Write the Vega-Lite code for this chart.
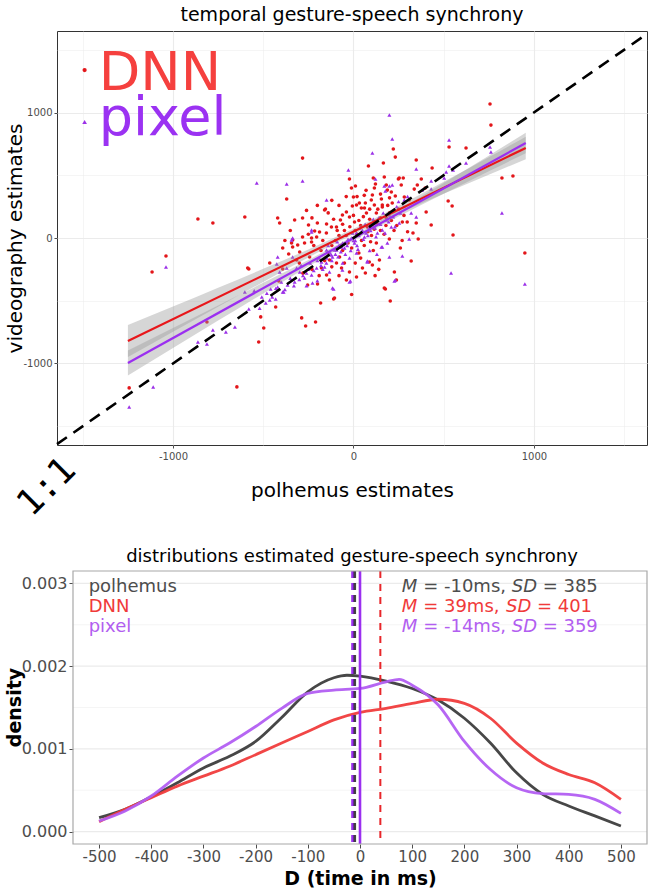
{
  "$schema": "https://vega.github.io/schema/vega-lite/v6.json",
  "background": "white",
  "padding": {"left": 4, "right": 0, "top": 5, "bottom": 0},
  "config": {
    "font": "DejaVu Sans",
    "view": {"stroke": null},
    "axis": {"domain": false, "gridColor": "#ebebeb", "tickColor": "#4d4d4d", "labelColor": "#4d4d4d", "titleColor": "#000000", "titleFontWeight": "normal", "labelFont": "DejaVu Sans", "titleFont": "DejaVu Sans"}
  },
  "datasets": {
    "dnn": [
      {"x":-1243,"y":-1195},{"x":-646,"y":-1187},{"x":-1116,"y":-271},{"x":-1039,"y":-143},{"x":-862,"y":151},{"x":-779,"y":119},{"x":-602,"y":167},{"x":-580,"y":-247},{"x":-812,"y":-669},{"x":-525,"y":-829},{"x":-282,"y":637},{"x":-370,"y":311},{"x":-155,"y":231},{"x":-514,"y":-629},{"x":-497,"y":-717},{"x":-431,"y":-550},{"x":-414,"y":-343},{"x":-392,"y":-247},{"x":-464,"y":-199},{"x":-409,"y":120},{"x":-287,"y":-637},{"x":-265,"y":-701},{"x":-210,"y":-669},{"x":-182,"y":-518},{"x":-110,"y":-486},{"x":-343,"y":-40},{"x":-315,"y":-175},{"x":-586,"y":-239},{"x":-420,"y":159},{"x":-326,"y":143},{"x":-392,"y":-80},{"x":-337,"y":-72},{"x":-282,"y":8},{"x":-232,"y":0},{"x":-188,"y":48},{"x":-160,"y":223},
      {"x":757,"y":1068},{"x":762,"y":900},{"x":221,"y":709},{"x":232,"y":645},{"x":166,"y":598},{"x":83,"y":574},{"x":-22,"y":470},{"x":-11,"y":398},{"x":11,"y":414},{"x":0,"y":327},{"x":-6,"y":255},{"x":110,"y":478},{"x":122,"y":430},{"x":116,"y":398},{"x":171,"y":486},{"x":182,"y":422},{"x":188,"y":382},{"x":210,"y":367},{"x":249,"y":470},{"x":232,"y":335},{"x":66,"y":279},{"x":99,"y":303},{"x":116,"y":263},{"x":155,"y":311},{"x":160,"y":263},{"x":215,"y":279},{"x":105,"y":343},{"x":17,"y":263},{"x":44,"y":239},{"x":530,"y":725},{"x":624,"y":717},{"x":348,"y":622},{"x":436,"y":558},{"x":254,"y":478},{"x":276,"y":478},{"x":376,"y":470},{"x":265,"y":422},{"x":354,"y":422},{"x":337,"y":390},{"x":398,"y":398},{"x":823,"y":478},{"x":884,"y":494},{"x":525,"y":295},{"x":547,"y":255},{"x":282,"y":327},{"x":309,"y":303},
      {"x":950,"y":-120},{"x":552,"y":24},{"x":403,"y":207},{"x":431,"y":104},{"x":348,"y":120},{"x":298,"y":127},{"x":271,"y":127},{"x":359,"y":-8},{"x":199,"y":-8},{"x":320,"y":-183},{"x":227,"y":-271},{"x":204,"y":-502},{"x":177,"y":-406},{"x":66,"y":-279},{"x":105,"y":-215},
      {"x":-282,"y":159},{"x":-249,"y":104},{"x":-215,"y":56},{"x":-149,"y":112},{"x":-122,"y":88},{"x":-94,"y":88},{"x":-72,"y":143},{"x":-61,"y":183},{"x":-39,"y":207},{"x":33,"y":279},{"x":61,"y":239},{"x":127,"y":199},{"x":160,"y":247},{"x":182,"y":159},{"x":-337,"y":-16},{"x":-309,"y":-56},{"x":-298,"y":-112},{"x":-271,"y":-40},{"x":-232,"y":-32},{"x":-204,"y":8},{"x":-359,"y":-127},{"x":-243,"y":-151},{"x":-177,"y":-239},{"x":-149,"y":-295},{"x":-133,"y":-335},{"x":-199,"y":-367},{"x":-254,"y":-375},{"x":-39,"y":-335},{"x":-105,"y":-478},{"x":-94,"y":-199},{"x":-66,"y":-239},{"x":-22,"y":-271},{"x":17,"y":-311},{"x":50,"y":-239},{"x":88,"y":-191},{"x":127,"y":-40},{"x":144,"y":-175},{"x":171,"y":-398},{"x":238,"y":-335},{"x":-22,"y":167},{"x":6,"y":127},{"x":72,"y":199},{"x":77,"y":88},{"x":-133,"y":-175},{"x":-77,"y":-151},
      {"x":-50,"y":60},{"x":20,"y":30},{"x":40,"y":100},{"x":90,"y":150},{"x":130,"y":120},{"x":150,"y":60},{"x":-80,"y":20},{"x":-30,"y":-40},{"x":60,"y":-60},{"x":100,"y":20},{"x":-120,"y":-60},{"x":200,"y":200},{"x":180,"y":100},{"x":-180,"y":-100},{"x":0,"y":180},{"x":30,"y":-120},{"x":-60,"y":-100},{"x":110,"y":-100},{"x":240,"y":100},{"x":70,"y":380},
      {"x":-250,"y":30},{"x":-220,"y":-60},{"x":-200,"y":120},{"x":-170,"y":-20},{"x":-150,"y":40},{"x":-140,"y":-120},{"x":-110,"y":150},{"x":-100,"y":-20},{"x":-90,"y":60},{"x":-70,"y":-60},{"x":-60,"y":110},{"x":-40,"y":20},{"x":-20,"y":90},{"x":-10,"y":-80},{"x":10,"y":60},{"x":30,"y":140},{"x":45,"y":-20},{"x":55,"y":170},{"x":80,"y":50},{"x":95,"y":-30},{"x":115,"y":70},{"x":135,"y":230},{"x":150,"y":160},{"x":170,"y":30},{"x":190,"y":260},{"x":210,"y":140},{"x":225,"y":60},{"x":250,"y":230},{"x":280,"y":180},{"x":300,"y":50},{"x":-300,"y":-200},{"x":-280,"y":-280},{"x":-230,"y":-250},{"x":-190,"y":-300},{"x":-160,"y":-180},{"x":-120,"y":-230},{"x":-80,"y":-300},{"x":-50,"y":-200},{"x":10,"y":-200},{"x":40,"y":-160},{"x":140,"y":-250},{"x":260,"y":-80},{"x":-260,"y":220},{"x":-230,"y":160},{"x":-120,"y":300},{"x":-80,"y":260},{"x":-40,"y":330},{"x":20,"y":330},{"x":60,"y":340},{"x":90,"y":230},{"x":-350,"y":60},{"x":-380,"y":-20},{"x":150,"y":350},{"x":200,"y":320},{"x":120,"y":-300},{"x":-10,"y":-450},{"x":270,"y":-20},{"x":330,"y":40},{"x":-140,"y":200},{"x":-200,"y":260}
    ],
    "pixel": [
      {"x":-1243,"y":-1347},{"x":-1110,"y":-1188},{"x":-1039,"y":-231},{"x":-536,"y":438},{"x":-602,"y":-430},{"x":-580,"y":-566},{"x":-779,"y":-733},{"x":-862,"y":-829},{"x":-812,"y":-845},{"x":-707,"y":-749},{"x":-657,"y":-709},{"x":-508,"y":-470},{"x":-486,"y":-518},{"x":-459,"y":-406},{"x":-431,"y":-486},{"x":-409,"y":-271},{"x":-425,"y":-207},{"x":-387,"y":-430},{"x":-110,"y":-406},{"x":-370,"y":430},{"x":-282,"y":454},{"x":-149,"y":303},{"x":-420,"y":-151},{"x":-337,"y":0},{"x":-232,"y":64},{"x":-28,"y":542},
      {"x":199,"y":980},{"x":215,"y":789},{"x":105,"y":677},{"x":122,"y":470},{"x":171,"y":414},{"x":199,"y":414},{"x":215,"y":422},{"x":177,"y":375},{"x":530,"y":781},{"x":348,"y":550},{"x":530,"y":574},{"x":552,"y":542},{"x":514,"y":526},{"x":624,"y":598},{"x":757,"y":725},{"x":762,"y":685},{"x":431,"y":454},{"x":381,"y":382},{"x":431,"y":390},{"x":282,"y":303},{"x":503,"y":478},
      {"x":823,"y":199},{"x":950,"y":-367},{"x":541,"y":-279},{"x":254,"y":120},{"x":348,"y":167},{"x":210,"y":88},{"x":309,"y":-8},{"x":271,"y":-143},{"x":227,"y":-343},{"x":-17,"y":-343},{"x":-116,"y":-398},{"x":77,"y":-183},{"x":160,"y":-72},
      {"x":-343,"y":-16},{"x":-232,"y":48},{"x":-149,"y":-96},{"x":-105,"y":-96},{"x":-116,"y":-151},{"x":-420,"y":-390},{"x":-392,"y":-430},{"x":-464,"y":-494},{"x":-365,"y":-375},{"x":-326,"y":-351},{"x":-298,"y":-271},{"x":-271,"y":-319},{"x":-232,"y":-295},{"x":-204,"y":-239},{"x":-177,"y":-191},{"x":-149,"y":-159},{"x":-122,"y":-135},{"x":-94,"y":-96},{"x":-66,"y":-72},{"x":-39,"y":-32},{"x":-11,"y":0},{"x":6,"y":-40},{"x":17,"y":40},{"x":44,"y":48},{"x":61,"y":8},{"x":88,"y":88},{"x":116,"y":120},{"x":133,"y":40},{"x":160,"y":64},{"x":182,"y":143},{"x":199,"y":183},{"x":77,"y":-191},{"x":-22,"y":-351},{"x":-227,"y":-359},{"x":-315,"y":-239},{"x":-160,"y":-231},{"x":-133,"y":-271},{"x":-61,"y":-255},{"x":17,"y":-120},{"x":-22,"y":-159},{"x":155,"y":-72},{"x":188,"y":-40},{"x":199,"y":-151},{"x":232,"y":-335},{"x":-337,"y":-151},{"x":-370,"y":-239},
      {"x":-250,"y":-250},{"x":-200,"y":-180},{"x":-180,"y":-220},{"x":-130,"y":-120},{"x":-80,"y":-60},{"x":-60,"y":-40},{"x":-30,"y":-10},{"x":0,"y":-20},{"x":30,"y":20},{"x":50,"y":60},{"x":70,"y":40},{"x":100,"y":110},{"x":120,"y":80},{"x":140,"y":160},{"x":-100,"y":-130},{"x":-50,"y":-80},{"x":20,"y":-60},{"x":240,"y":250},{"x":260,"y":200},{"x":-280,"y":-300},
      {"x":-480,"y":-440},{"x":-450,"y":-470},{"x":-430,"y":-400},{"x":-400,"y":-350},{"x":-380,"y":-410},{"x":-350,"y":-320},{"x":-330,"y":-380},{"x":-300,"y":-330},{"x":-290,"y":-220},{"x":-260,"y":-280},{"x":-240,"y":-200},{"x":-220,"y":-260},{"x":-190,"y":-160},{"x":-170,"y":-250},{"x":-150,"y":-200},{"x":-140,"y":-60},{"x":-120,"y":-180},{"x":-90,"y":-30},{"x":-85,"y":-150},{"x":-70,"y":-110},{"x":-45,"y":-130},{"x":-35,"y":-60},{"x":-15,"y":-100},{"x":-5,"y":40},{"x":10,"y":-20},{"x":25,"y":-90},{"x":35,"y":80},{"x":55,"y":-10},{"x":65,"y":110},{"x":80,"y":20},{"x":95,"y":60},{"x":110,"y":150},{"x":125,"y":10},{"x":150,"y":110},{"x":165,"y":200},{"x":175,"y":40},{"x":195,"y":130},{"x":220,"y":170},{"x":230,"y":90},{"x":250,"y":290},{"x":280,"y":250},{"x":300,"y":330},{"x":320,"y":200},{"x":-260,"y":-380},{"x":-200,"y":-340},{"x":-60,"y":-200},{"x":90,"y":-100},{"x":130,"y":-130},{"x":-520,"y":-560},{"x":-550,"y":-420}
    ],
    "bands": [
      {"series":"DNN","x":-1250,"y":-949.5,"yhi":-693.5},{"series":"DNN","x":-1000,"y":-747,"yhi":-547},{"series":"DNN","x":-750,"y":-547.5,"yhi":-397.5},{"series":"DNN","x":-500,"y":-350,"yhi":-246},{"series":"DNN","x":-250,"y":-155.5,"yhi":-91.5},{"series":"DNN","x":0,"y":29,"yhi":73},{"series":"DNN","x":250,"y":195.5,"yhi":255.5},{"series":"DNN","x":500,"y":352,"yhi":448},{"series":"DNN","x":750,"y":504.5,"yhi":644.5},{"series":"DNN","x":955,"y":627.6,"yhi":807.6},
      {"series":"pixel","x":-1250,"y":-1095.8,"yhi":-895.8},{"series":"pixel","x":-1000,"y":-877,"yhi":-717},{"series":"pixel","x":-750,"y":-658.3,"yhi":-538.3},{"series":"pixel","x":-500,"y":-441.5,"yhi":-357.5},{"series":"pixel","x":-250,"y":-226.8,"yhi":-174.8},{"series":"pixel","x":0,"y":-20,"yhi":16},{"series":"pixel","x":250,"y":170.8,"yhi":222.8},{"series":"pixel","x":500,"y":353.5,"yhi":437.5},{"series":"pixel","x":750,"y":532.3,"yhi":656.3},{"series":"pixel","x":955,"y":675.2,"yhi":839.2}
    ],
    "fits": [
      {"series":"DNN","x":-1250,"y":-821.5},{"series":"DNN","x":955,"y":717.6},
      {"series":"pixel","x":-1250,"y":-995.8},{"series":"pixel","x":955,"y":757.2}
    ],
    "dens": [
      {"series":"polhemus","D":-500,"density":0.000168},{"series":"polhemus","D":-450,"density":0.000269},{"series":"polhemus","D":-400,"density":0.00042},{"series":"polhemus","D":-350,"density":0.00059},{"series":"polhemus","D":-300,"density":0.00077},{"series":"polhemus","D":-250,"density":0.00091},{"series":"polhemus","D":-200,"density":0.00109},{"series":"polhemus","D":-150,"density":0.00138},{"series":"polhemus","D":-100,"density":0.00169},{"series":"polhemus","D":-50,"density":0.00186},{"series":"polhemus","D":-25,"density":0.00189},{"series":"polhemus","D":0,"density":0.00188},{"series":"polhemus","D":50,"density":0.00182},{"series":"polhemus","D":100,"density":0.00173},{"series":"polhemus","D":150,"density":0.00159},{"series":"polhemus","D":200,"density":0.00137},{"series":"polhemus","D":250,"density":0.00107},{"series":"polhemus","D":300,"density":0.00071},{"series":"polhemus","D":350,"density":0.00045},{"series":"polhemus","D":400,"density":0.00031},{"series":"polhemus","D":450,"density":0.00019},{"series":"polhemus","D":500,"density":0.000068},
      {"series":"DNN","D":-500,"density":0.00012},{"series":"DNN","D":-450,"density":0.00027},{"series":"DNN","D":-400,"density":0.00041},{"series":"DNN","D":-350,"density":0.00055},{"series":"DNN","D":-300,"density":0.00067},{"series":"DNN","D":-250,"density":0.00079},{"series":"DNN","D":-200,"density":0.00093},{"series":"DNN","D":-150,"density":0.00107},{"series":"DNN","D":-100,"density":0.00121},{"series":"DNN","D":-50,"density":0.00135},{"series":"DNN","D":0,"density":0.00144},{"series":"DNN","D":50,"density":0.00149},{"series":"DNN","D":100,"density":0.00155},{"series":"DNN","D":150,"density":0.0016},{"series":"DNN","D":200,"density":0.00155},{"series":"DNN","D":250,"density":0.00137},{"series":"DNN","D":300,"density":0.00107},{"series":"DNN","D":350,"density":0.00083},{"series":"DNN","D":400,"density":0.00069},{"series":"DNN","D":450,"density":0.00059},{"series":"DNN","D":500,"density":0.00039},
      {"series":"pixel","D":-500,"density":0.000128},{"series":"pixel","D":-450,"density":0.00025},{"series":"pixel","D":-400,"density":0.00043},{"series":"pixel","D":-350,"density":0.00067},{"series":"pixel","D":-300,"density":0.00089},{"series":"pixel","D":-250,"density":0.00107},{"series":"pixel","D":-200,"density":0.00127},{"series":"pixel","D":-150,"density":0.00149},{"series":"pixel","D":-100,"density":0.00167},{"series":"pixel","D":-50,"density":0.00171},{"series":"pixel","D":0,"density":0.00173},{"series":"pixel","D":50,"density":0.00181},{"series":"pixel","D":75,"density":0.00184},{"series":"pixel","D":100,"density":0.00177},{"series":"pixel","D":150,"density":0.00153},{"series":"pixel","D":200,"density":0.00109},{"series":"pixel","D":250,"density":0.00075},{"series":"pixel","D":300,"density":0.00053},{"series":"pixel","D":350,"density":0.00046},{"series":"pixel","D":400,"density":0.00045},{"series":"pixel","D":450,"density":0.00039},{"series":"pixel","D":500,"density":0.00022}
    ],
    "ygrid": [
      {"g":0,"major":true},{"g":0.0005,"major":false},{"g":0.001,"major":true},{"g":0.0015,"major":false},{"g":0.002,"major":true},{"g":0.0025,"major":false},{"g":0.003,"major":true}
    ],
    "stats": [
      {"s":"polhemus","D":80,"density":0.002892,"label":"M","it":true},{"s":"polhemus","D":121,"density":0.002892,"label":"= -10ms,","it":false},{"s":"polhemus","D":291,"density":0.002892,"label":"SD","it":true},{"s":"polhemus","D":350,"density":0.002892,"label":"= 385","it":false},
      {"s":"DNN","D":80,"density":0.002651,"label":"M","it":true},{"s":"DNN","D":121,"density":0.002651,"label":"= 39ms,","it":false},{"s":"DNN","D":280,"density":0.002651,"label":"SD","it":true},{"s":"DNN","D":339,"density":0.002651,"label":"= 401","it":false},
      {"s":"pixel","D":80,"density":0.00241,"label":"M","it":true},{"s":"pixel","D":121,"density":0.00241,"label":"= -14ms,","it":false},{"s":"pixel","D":291,"density":0.00241,"label":"SD","it":true},{"s":"pixel","D":350,"density":0.00241,"label":"= 359","it":false},
      {"s":"polhemus","D":-520,"density":0.002892,"label":"polhemus","it":false},{"s":"DNN","D":-520,"density":0.002651,"label":"DNN","it":false},{"s":"pixel","D":-520,"density":0.00241,"label":"pixel","it":false}
    ]
  },
  "concat": [
    {
      "width": 590,
      "height": 414,
      "view": {"stroke": "#333333", "strokeWidth": 1},
      "title": {"text": "temporal gesture-speech synchrony", "fontSize": 19, "fontWeight": "normal", "font": "DejaVu Sans", "anchor": "middle", "offset": 4, "color": "#000000"},
      "layer": [
        {
          "data": {"name": "dnn"},
          "mark": {"type": "point", "shape": "circle", "filled": true, "size": 13, "color": "#e3161a", "opacity": 1},
          "encoding": {
            "x": {"field": "x", "type": "quantitative", "scale": {"domain": [-1643, 1627], "nice": false, "zero": false},
              "axis": {"title": "polhemus estimates", "values": [-1500, -1000, -500, 0, 500, 1000, 1500], "labelExpr": "datum.value % 1000 === 0 ? '' + datum.value : ''", "labelFontSize": 10, "titleFontSize": 20, "tickSize": 3, "labelPadding": 3, "titlePadding": 19,
                "tickOpacity": {"condition": {"test": "datum.value % 1000 === 0", "value": 1}, "value": 0},
                "gridWidth": {"condition": {"test": "datum.value % 1000 === 0", "value": 1.1}, "value": 0.5}}},
            "y": {"field": "y", "type": "quantitative", "scale": {"domain": [-1650, 1650], "nice": false, "zero": false},
              "axis": {"title": "videography estimates", "values": [-1500, -1000, -500, 0, 500, 1000, 1500], "labelExpr": "datum.value % 1000 === 0 ? '' + datum.value : ''", "labelFontSize": 10, "titleFontSize": 20, "tickSize": 3, "labelPadding": 2, "titleX": -32, "titleY": 207,
                "tickOpacity": {"condition": {"test": "datum.value % 1000 === 0", "value": 1}, "value": 0},
                "gridWidth": {"condition": {"test": "datum.value % 1000 === 0", "value": 1.1}, "value": 0.5}}}
          }
        },
        {
          "data": {"name": "pixel"},
          "mark": {"type": "point", "shape": "triangle-up", "filled": true, "size": 16, "color": "#9b30e8", "opacity": 1},
          "encoding": {"x": {"field": "x", "type": "quantitative"}, "y": {"field": "y", "type": "quantitative"}}
        },
        {
          "data": {"name": "bands"},
          "mark": {"type": "area", "color": "#999999", "opacity": 0.4, "interpolate": "monotone"},
          "encoding": {"x": {"field": "x", "type": "quantitative"}, "y": {"field": "y", "type": "quantitative"}, "y2": {"field": "yhi"}, "detail": {"field": "series"}}
        },
        {
          "data": {"name": "fits"},
          "transform": [{"filter": "datum.series === 'DNN'"}],
          "mark": {"type": "line", "color": "#e8161a", "strokeWidth": 2.2},
          "encoding": {"x": {"field": "x", "type": "quantitative"}, "y": {"field": "y", "type": "quantitative"}}
        },
        {
          "data": {"name": "fits"},
          "transform": [{"filter": "datum.series === 'pixel'"}],
          "mark": {"type": "line", "color": "#9b2ff0", "strokeWidth": 2.2},
          "encoding": {"x": {"field": "x", "type": "quantitative"}, "y": {"field": "y", "type": "quantitative"}}
        },
        {
          "data": {"values": [{"x": -1643, "y": -1643}, {"x": 1627, "y": 1627}]},
          "mark": {"type": "line", "color": "#000000", "strokeWidth": 2.6, "strokeDash": [12, 8]},
          "encoding": {"x": {"field": "x", "type": "quantitative"}, "y": {"field": "y", "type": "quantitative"}}
        },
        {
          "data": {"values": [{"x": -1490, "y": 1339}]},
          "mark": {"type": "point", "shape": "circle", "filled": true, "size": 18, "color": "#e3161a", "opacity": 1},
          "encoding": {"x": {"field": "x", "type": "quantitative"}, "y": {"field": "y", "type": "quantitative"}}
        },
        {
          "data": {"values": [{"x": -1490, "y": 924}]},
          "mark": {"type": "point", "shape": "triangle-up", "filled": true, "size": 22, "color": "#9b30e8", "opacity": 1},
          "encoding": {"x": {"field": "x", "type": "quantitative"}, "y": {"field": "y", "type": "quantitative"}}
        },
        {
          "data": {"values": [{"x": -1412, "y": 1179, "label": "DNN"}]},
          "mark": {"type": "text", "align": "left", "baseline": "alphabetic", "fontSize": 54, "font": "DejaVu Sans", "color": "#f5403e"},
          "encoding": {"x": {"field": "x", "type": "quantitative"}, "y": {"field": "y", "type": "quantitative"}, "text": {"field": "label"}}
        },
        {
          "data": {"values": [{"x": -1412, "y": 821, "label": "pixel"}]},
          "mark": {"type": "text", "align": "left", "baseline": "alphabetic", "fontSize": 54, "font": "DejaVu Sans", "color": "#9b32f2"},
          "encoding": {"x": {"field": "x", "type": "quantitative"}, "y": {"field": "y", "type": "quantitative"}, "text": {"field": "label"}}
        },
        {
          "data": {"values": [{"x": -1700, "y": -1985, "label": "1:1"}]},
          "mark": {"type": "text", "align": "center", "baseline": "middle", "fontSize": 36, "font": "DejaVu Sans Mono", "angle": -45, "color": "#000000"},
          "encoding": {"x": {"field": "x", "type": "quantitative"}, "y": {"field": "y", "type": "quantitative"}, "text": {"field": "label"}}
        }
      ]
    },
    {
      "width": 590,
      "height": 273,
      "title": {"text": "distributions estimated gesture-speech synchrony", "fontSize": 18, "fontWeight": "normal", "font": "DejaVu Sans", "anchor": "middle", "offset": 4, "color": "#000000"},
      "layer": [
        {
          "data": {"name": "ygrid"},
          "mark": {"type": "rule", "color": "#ebebeb"},
          "encoding": {
            "x": {"datum": -550, "type": "quantitative"},
            "x2": {"datum": 550},
            "y": {"field": "g", "type": "quantitative"},
            "strokeWidth": {"field": "major", "type": "nominal", "scale": {"domain": [true, false], "range": [1.1, 0.5]}, "legend": null}
          }
        },
        {
          "data": {"name": "dens"},
          "transform": [{"filter": "datum.series === 'polhemus'"}],
          "mark": {"type": "line", "color": "#333333", "opacity": 0.9, "strokeWidth": 2.8, "interpolate": "monotone"},
          "encoding": {
            "x": {"field": "D", "type": "quantitative", "scale": {"domain": [-580.66, 550], "nice": false, "zero": false},
              "axis": {"title": "D (time in ms)", "titleFontWeight": "bold", "titleFontSize": 19, "values": [-500, -450, -400, -350, -300, -250, -200, -150, -100, -50, 0, 50, 100, 150, 200, 250, 300, 350, 400, 450, 500], "labelExpr": "datum.value % 100 === 0 ? '' + datum.value : ''", "labelFontSize": 15, "tickSize": 4, "labelPadding": 1, "titleX": 303, "titleY": 25,
                "tickOpacity": {"condition": {"test": "datum.value % 100 === 0", "value": 1}, "value": 0},
                "gridWidth": {"condition": {"test": "datum.value % 100 === 0", "value": 1.1}, "value": 0.5}}},
            "y": {"field": "density", "type": "quantitative", "scale": {"domain": [-0.00015, 0.00315], "nice": false, "zero": false},
              "axis": {"title": "density", "titleFontWeight": "bold", "titleFontSize": 19, "values": [0, 0.0005, 0.001, 0.0015, 0.002, 0.0025, 0.003], "labelExpr": "round(datum.value * 10000) % 10 === 0 ? format(datum.value, '.3f') : ''", "labelFontSize": 16, "tickSize": 4, "labelPadding": 2, "offset": -16, "grid": false, "titleX": -49, "titleY": 136,
                "tickOpacity": {"condition": {"test": "round(datum.value * 10000) % 10 === 0", "value": 1}, "value": 0}}}
          }
        },
        {
          "data": {"name": "dens"},
          "transform": [{"filter": "datum.series === 'DNN'"}],
          "mark": {"type": "line", "color": "#f03c3c", "opacity": 0.95, "strokeWidth": 2.8, "interpolate": "monotone"},
          "encoding": {"x": {"field": "D", "type": "quantitative"}, "y": {"field": "density", "type": "quantitative"}}
        },
        {
          "data": {"name": "dens"},
          "transform": [{"filter": "datum.series === 'pixel'"}],
          "mark": {"type": "line", "color": "#b25ef2", "opacity": 0.95, "strokeWidth": 2.8, "interpolate": "monotone"},
          "encoding": {"x": {"field": "D", "type": "quantitative"}, "y": {"field": "density", "type": "quantitative"}}
        },
        {
          "data": {"values": [{"D": 39}]},
          "mark": {"type": "rule", "color": "#e8262a", "strokeWidth": 2, "strokeDash": [7, 6]},
          "encoding": {"x": {"field": "D", "type": "quantitative"}}
        },
        {
          "data": {"values": [{"D": 0}]},
          "mark": {"type": "rule", "color": "#9b2ff0", "strokeWidth": 2.6},
          "encoding": {"x": {"field": "D", "type": "quantitative"}}
        },
        {
          "data": {"values": [{"D": -14}]},
          "mark": {"type": "rule", "color": "#9b2ff0", "strokeWidth": 3, "strokeDash": [7, 5]},
          "encoding": {"x": {"field": "D", "type": "quantitative"}}
        },
        {
          "data": {"values": [{"D": -10}]},
          "mark": {"type": "rule", "color": "#222222", "strokeWidth": 2.6, "strokeDash": [7, 5], "opacity": 0.85},
          "encoding": {"x": {"field": "D", "type": "quantitative"}}
        },
        {
          "data": {"values": [{}]},
          "mark": {"type": "rect", "filled": false, "stroke": "#a8a8a8", "strokeWidth": 1.2},
          "encoding": {
            "x": {"datum": -550, "type": "quantitative"},
            "x2": {"datum": 550},
            "y": {"datum": -0.00015, "type": "quantitative"},
            "y2": {"datum": 0.00315}
          }
        },
        {
          "data": {"name": "stats"},
          "transform": [{"filter": "!datum.it"}],
          "mark": {"type": "text", "align": "left", "baseline": "alphabetic", "fontSize": 18, "font": "DejaVu Sans"},
          "encoding": {"x": {"field": "D", "type": "quantitative"}, "y": {"field": "density", "type": "quantitative"}, "text": {"field": "label"},
            "color": {"field": "s", "type": "nominal", "scale": {"domain": ["polhemus", "DNN", "pixel"], "range": ["#4d4d4d", "#f03a3a", "#b25ef0"]}, "legend": null}}
        },
        {
          "data": {"name": "stats"},
          "transform": [{"filter": "datum.it"}],
          "mark": {"type": "text", "align": "left", "baseline": "alphabetic", "fontSize": 18, "font": "DejaVu Sans", "fontStyle": "italic"},
          "encoding": {"x": {"field": "D", "type": "quantitative"}, "y": {"field": "density", "type": "quantitative"}, "text": {"field": "label"},
            "color": {"field": "s", "type": "nominal", "scale": {"domain": ["polhemus", "DNN", "pixel"], "range": ["#4d4d4d", "#f03a3a", "#b25ef0"]}, "legend": null}}
        }
      ]
    }
  ],
  "columns": 1,
  "spacing": 23
}
